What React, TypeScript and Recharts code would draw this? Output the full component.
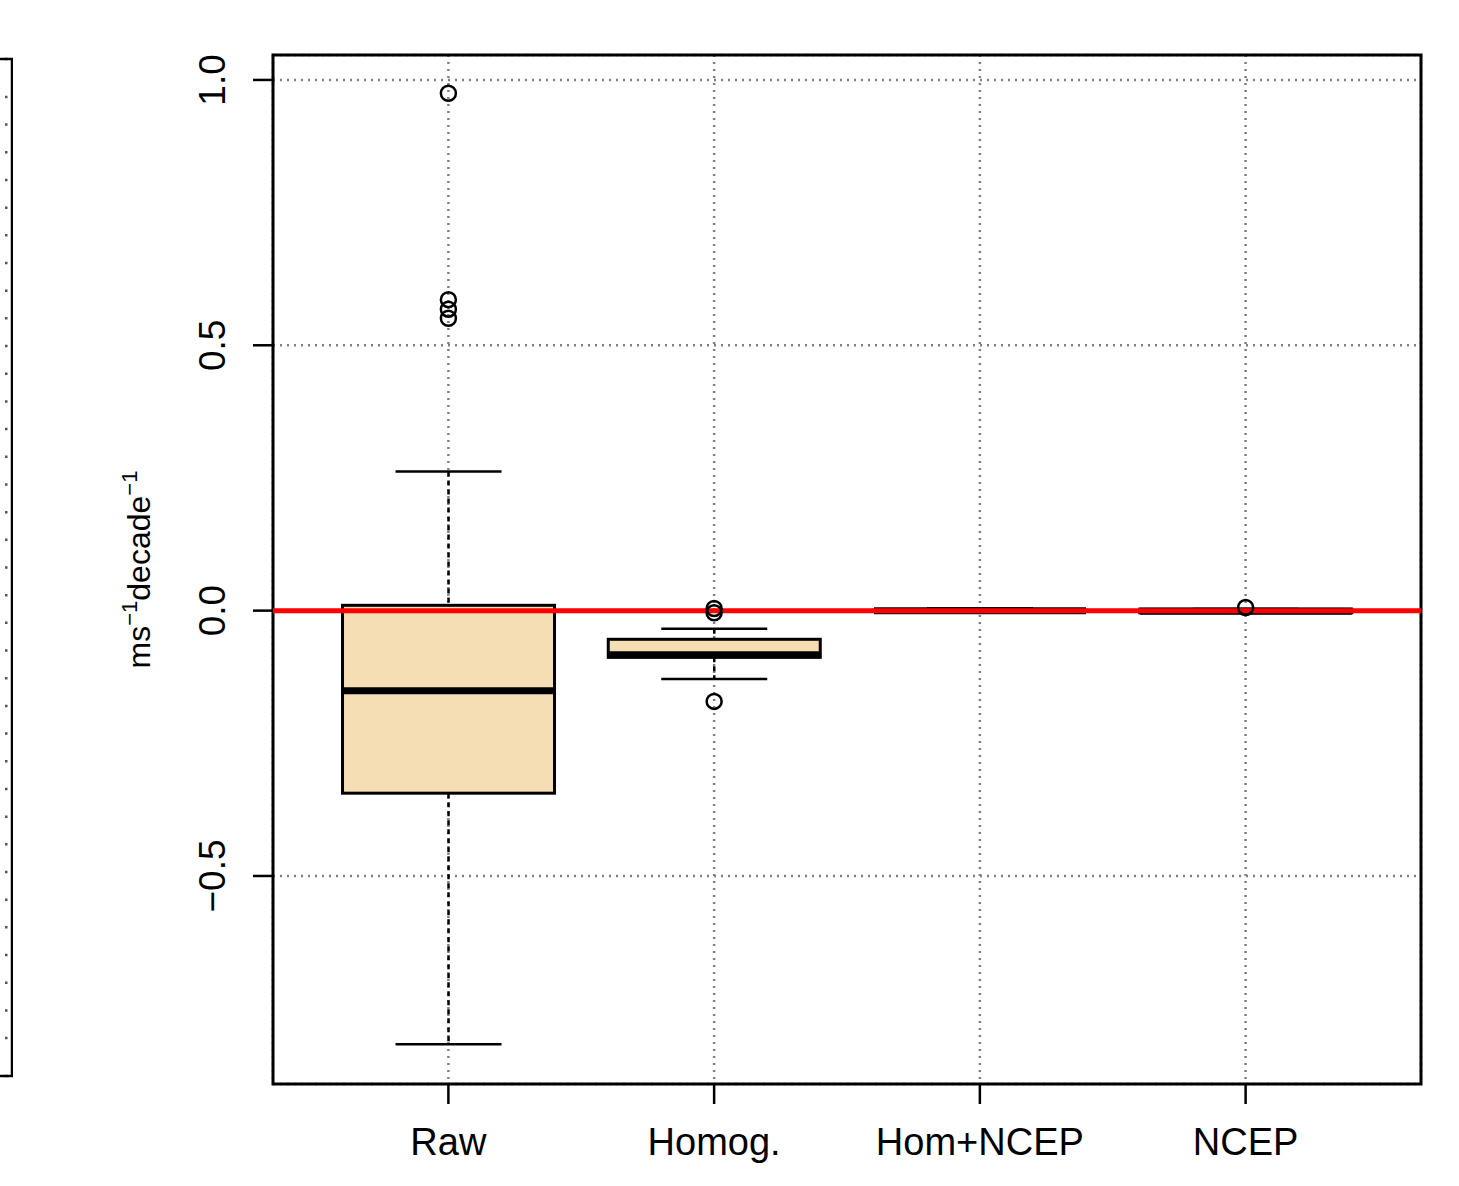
import React from "react";
import {
  ComposedChart, Bar, Scatter, XAxis, YAxis, CartesianGrid,
  ReferenceLine, ReferenceArea,
} from "recharts";

// boxplot of trend per station set (ms^-1 decade^-1)
const categories = ["Raw", "Homog.", "Hom+NCEP", "NCEP"];
const positions = [1, 2, 3, 4];
const whiskerLow = [-0.817, -0.129, -0.004, -0.004];
const quartile1 = [-0.344, -0.088, -0.001, -0.004];
const medians = [-0.151, -0.083, 0.0, -0.001];
const quartile3 = [0.01, -0.054, 0.001, 0.003];
const whiskerHigh = [0.262, -0.034, 0.004, 0.003];
const outliers = [
  [0.975, 0.586, 0.568, 0.551],
  [0.004, -0.004, -0.171],
  [],
  [0.006],
];
const yTicks = [-0.5, 0, 0.5, 1];
const yDomain = [-0.892, 1.047];
const xDomain = [0.34, 4.66];

// neighbouring panel, only its right edge is visible
const neighbourRows = Array.from({ length: 35 }, (_, i) => i + 1);

const FONT = "'Liberation Sans', Arial, sans-serif";

const rows = categories.map((name, i) => {
  const r: Record<string, any> = {
    name,
    pos: positions[i],
    lo: whiskerLow[i],
    q1: quartile1[i],
    med: medians[i],
    q3: quartile3[i],
    hi: whiskerHigh[i],
  };
  for (let j = 0; j < 4; j++) r[`o${j}`] = outliers[i][j] ?? null;
  return r;
});

function BoxShape(props: any) {
  const { x, y, width, height, payload } = props;
  if (!payload || !isFinite(y) || !isFinite(height)) return null;
  const top = Math.min(y, y + height);
  const h = Math.abs(height);
  const k = h / (payload.hi - payload.lo || 1e-9);
  const py = (v: number) => top + (payload.hi - v) * k;
  const cx = x + width / 2;
  const cap = width / 4;
  return (
    <g>
      <line x1={cx} x2={cx} y1={py(payload.hi)} y2={py(payload.q3)} stroke="#000" strokeWidth={2.5} strokeDasharray="5 4" />
      <line x1={cx} x2={cx} y1={py(payload.q1)} y2={py(payload.lo)} stroke="#000" strokeWidth={2.5} strokeDasharray="5 4" />
      <line x1={cx - cap} x2={cx + cap} y1={py(payload.hi)} y2={py(payload.hi)} stroke="#000" strokeWidth={2.5} />
      <line x1={cx - cap} x2={cx + cap} y1={py(payload.lo)} y2={py(payload.lo)} stroke="#000" strokeWidth={2.5} />
      <rect x={x} y={py(payload.q3)} width={width} height={Math.max(py(payload.q1) - py(payload.q3), 0.5)}
        fill="#F5DEB3" stroke="#000" strokeWidth={3} />
      <line x1={x} x2={x + width} y1={py(payload.med)} y2={py(payload.med)} stroke="#000" strokeWidth={7} />
    </g>
  );
}

const outlierShape = (key: string) => (props: any) => {
  const { cx, cy, payload } = props;
  if (!payload || payload[key] == null || !isFinite(cy)) return <g />;
  return <circle cx={cx} cy={cy} r={7.5} fill="none" stroke="#000" strokeWidth={2.5} />;
};

function YTick(props: any) {
  const { x, y, payload } = props;
  const v = payload.value as number;
  const txt = v < 0 ? `\u2212${Math.abs(v).toFixed(1)}` : v.toFixed(1);
  return (
    <text x={x} y={y} transform={`rotate(-90, ${x}, ${y})`} textAnchor="middle"
      fontSize={37} fontFamily={FONT} fill="#000">{txt}</text>
  );
}

function XTick(props: any) {
  const { x, y, payload } = props;
  return (
    <text x={x} y={y + 27} textAnchor="middle" fontSize={38} fontFamily={FONT} fill="#000">
      {categories[positions.indexOf(payload.value)]}
    </text>
  );
}

function YLabel(props: any) {
  const vb = props.viewBox || { x: 0, y: 55, width: 273, height: 1029 };
  const x = vb.x + 150;
  const y = vb.y + vb.height / 2;
  return (
    <text x={x} y={y} transform={`rotate(-90, ${x}, ${y})`} textAnchor="middle"
      fontSize={32} fontFamily={FONT} fill="#000">
      ms<tspan fontSize={22} dy={-13}>{"\u22121"}</tspan>
      <tspan dy={13}>decade</tspan>
      <tspan fontSize={22} dy={-13}>{"\u22121"}</tspan>
    </text>
  );
}

export default function App() {
  return (
    <div style={{ position: "absolute", left: 0, top: 0, width: 1459, height: 1186, background: "#fff", overflow: "hidden" }}>
      <div style={{ position: "absolute", left: -27, top: 0 }}>
        <ComposedChart width={40} height={1186} data={neighbourRows.map((i) => ({ i }))}
          margin={{ top: 59, right: 1, bottom: 110, left: 0 }}>
          <XAxis type="number" dataKey="i" hide domain={[0, 1]} allowDataOverflow />
          <YAxis type="number" hide reversed domain={[-0.37, 36.37]} ticks={neighbourRows} allowDataOverflow width={0} />
          <CartesianGrid vertical={false} stroke="#555" strokeWidth={2.5} strokeDasharray="2.5 5.5" />
          <ReferenceArea y1={-0.37} y2={36.37} fill="none" stroke="#000" strokeWidth={2.5} ifOverflow="visible" />
        </ComposedChart>
      </div>
      <ComposedChart width={1459} height={1186} data={rows}
        margin={{ top: 55, right: 38, bottom: 0, left: 0 }}>
        <CartesianGrid stroke="#808080" strokeWidth={2.5} strokeDasharray="2 5" />
        <XAxis type="number" dataKey="pos" domain={xDomain} ticks={positions} allowDataOverflow
          height={102} axisLine={false} tickSize={20} tickMargin={24}
          tickLine={{ stroke: "#000", strokeWidth: 2.5 }} tick={<XTick />} interval={0} />
        <YAxis type="number" domain={yDomain} ticks={yTicks} allowDataOverflow
          width={273} axisLine={false} tickSize={20} tickMargin={28}
          tickLine={{ stroke: "#000", strokeWidth: 2.5 }} tick={<YTick />} interval={0}
          label={{ content: <YLabel /> }} />
        <Bar dataKey={(d: any) => [d.lo, d.hi]} barSize={212} shape={<BoxShape />} isAnimationActive={false} />
        <ReferenceLine y={0} stroke="#FF0000" strokeWidth={5} />
        {[0, 1, 2, 3].map((j) => (
          <Scatter key={j} dataKey={`o${j}`} shape={outlierShape(`o${j}`)} isAnimationActive={false} />
        ))}
        <ReferenceArea y1={yDomain[0]} y2={yDomain[1]} fill="none" stroke="#000" strokeWidth={3} ifOverflow="visible" />
      </ComposedChart>
    </div>
  );
}
